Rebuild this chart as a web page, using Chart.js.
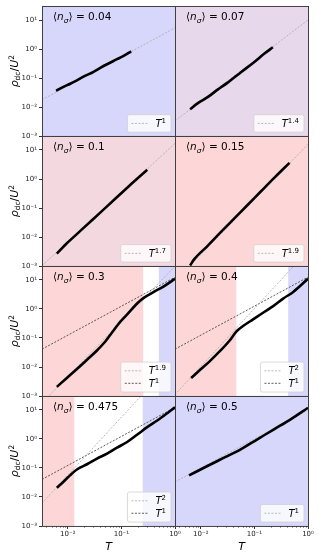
<!DOCTYPE html>
<html>
<head>
<meta charset="utf-8">
<script src="https://cdn.jsdelivr.net/npm/chart.js@4.4.1/dist/chart.umd.min.js"></script>
<style>
  body { margin: 0; background: #fff; }
  canvas { display: block; }
</style>
</head>
<body>
<canvas id="myChart" width="319" height="557"></canvas>
<script>
// rho_dc/U^2 vs T, one log-log panel per <n_sigma>, 4 rows x 2 cols

const nSigma = ['0.04', '0.07', '0.1', '0.15', '0.3', '0.4', '0.475', '0.5'];

const xLim = [0.0033, 1];
const yLim = [0.001, 30];
const yTicks = [0.001, 0.01, 0.1, 1, 10];
const yTickLabels = ['10⁻³', '10⁻²', '10⁻¹', '10⁰', '10¹'];
const xTicks = [0.01, 0.1, 1];
const xTickLabels = ['10⁻²', '10⁻¹', '10⁰'];
const xMinor = [0.004, 0.005, 0.006, 0.007, 0.008, 0.009,
                0.02, 0.03, 0.04, 0.05, 0.06, 0.07, 0.08, 0.09,
                0.2, 0.3, 0.4, 0.5, 0.6, 0.7, 0.8, 0.9];

// curves
const T04 = [0.00605, 0.0083, 0.0111, 0.0148, 0.0196, 0.0303, 0.0404, 0.0539, 0.083, 0.110, 0.152];
const rho04 = [0.0365, 0.05, 0.064, 0.084, 0.112, 0.165, 0.225, 0.3, 0.448, 0.585, 0.838];
const T07 = [0.00632, 0.00869, 0.0134, 0.0206, 0.0317, 0.0562, 0.0998, 0.154, 0.221];
const rho07 = [0.0084, 0.0135, 0.022, 0.04, 0.07, 0.16, 0.36, 0.7, 1.15];
const T10 = [0.00624, 0.0096, 0.0171, 0.0303, 0.0539, 0.0957, 0.170, 0.303];
const rho10 = [0.0027, 0.0061, 0.0163, 0.043, 0.114, 0.305, 0.81, 2.1];
const T15 = [0.00632, 0.0075, 0.0134, 0.0238, 0.0422, 0.0752, 0.133, 0.237, 0.452];
const rho15 = [0.00105, 0.0017, 0.005, 0.015, 0.044, 0.13, 0.38, 1.12, 3.6];
const T30 = [0.00624, 0.0096, 0.0148, 0.0228, 0.035, 0.0501, 0.0668, 0.0957, 0.137, 0.196, 0.261, 0.402, 0.618, 1.0];
const rho30 = [0.00207, 0.00421, 0.00855, 0.0178, 0.0372, 0.0757, 0.155, 0.366, 0.742, 1.54, 2.42, 3.87, 6.03, 11.0];
const T40 = [0.0066, 0.0095, 0.0146, 0.0224, 0.0346, 0.0459, 0.0614, 0.0944, 0.145, 0.224, 0.344, 0.53, 1.0];
const rho40 = [0.0042, 0.0077, 0.0157, 0.0344, 0.0818, 0.166, 0.258, 0.438, 0.741, 1.25, 2.28, 3.87, 11.0];
const T475 = [0.00624, 0.0083, 0.0111, 0.0148, 0.0228, 0.035, 0.054, 0.083, 0.128, 0.196, 0.303, 0.466, 0.716, 1.0];
const rho475 = [0.0209, 0.0336, 0.0566, 0.0885, 0.134, 0.21, 0.312, 0.5, 0.783, 1.39, 2.55, 4.3, 7.67, 12.3];
const T50 = [0.00604, 0.0133, 0.0272, 0.0555, 0.1135, 0.232, 0.475, 1.0];
const rho50 = [0.0557, 0.1166, 0.2256, 0.438, 0.968, 2.14, 4.73, 11.9];

// power law guides, values at xLim[0] and xLim[1]
const fit04 = [0.0178, 5.39];
const fit07 = [0.00337, 10.0];
const fit10 = [0.00103, 16.9];
const fit15 = [0.000305, 15.7];
const fit30 = [0.00058, 29.5], fit30b = [0.0412, 12.4];
const fit40 = [0.00113, 102], fit40b = [0.0412, 12.5];
const fit475 = [0.0061, 560], fit475b = [0.0403, 12.2];
const fit50 = [0.0328, 9.94];
const fitExp = [['1'], ['1.4'], ['1.7'], ['1.9'], ['1.9', '1'], ['2', '1'], ['2', '1'], ['1']];

// shaded T ranges
const bands04 = [['blue', 0.0033, 1]];
const bands07 = [['lilac', 0.0033, 1]];
const bands10 = [['mauve', 0.0033, 1]];
const bands15 = [['red', 0.0033, 1]];
const bands30 = [['red', 0.0033, 0.255], ['blue', 0.499, 1]];
const bands40 = [['red', 0.0033, 0.046], ['blue', 0.427, 1]];
const bands475 = [['red', 0.0033, 0.0132], ['blue', 0.25, 1]];
const bands50 = [['blue', 0.0033, 1]];

const bandColors = { blue: '#d7d7fb', lilac: '#e8d8ec', mauve: '#f3d8e0', red: '#fdd7d7' };
const FONT = 'DejaVu Sans';

const panels = [
  { T: T04, rho: rho04, fits: [fit04], bands: bands04 },
  { T: T07, rho: rho07, fits: [fit07], bands: bands07 },
  { T: T10, rho: rho10, fits: [fit10], bands: bands10 },
  { T: T15, rho: rho15, fits: [fit15], bands: bands15 },
  { T: T30, rho: rho30, fits: [fit30, fit30b], bands: bands30 },
  { T: T40, rho: rho40, fits: [fit40, fit40b], bands: bands40 },
  { T: T475, rho: rho475, fits: [fit475, fit475b], bands: bands475 },
  { T: T50, rho: rho50, fits: [fit50], bands: bands50 }
];
panels.forEach((p, i) => { p.row = Math.floor(i / 2); p.col = i % 2; });

const datasets = [];
panels.forEach((p, i) => {
  datasets.push({
    data: p.T.map((t, k) => ({ x: t, y: p.rho[k] })),
    xAxisID: 'x' + p.col, yAxisID: 'y' + p.row,
    borderColor: '#000', borderWidth: 2.6, pointRadius: 0,
    cubicInterpolationMode: 'monotone', order: 0
  });
  p.fits.forEach((f, j) => {
    const dark = p.fits.length > 1 && j == 1;
    datasets.push({
      data: xLim.map((t, k) => ({ x: t, y: f[k] })),
      xAxisID: 'x' + p.col, yAxisID: 'y' + p.row,
      borderColor: dark ? '#333' : '#a8a8a8', borderWidth: 0.8,
      borderDash: [2, 1.5], pointRadius: 0, order: 1
    });
  });
});

function drawRich(ctx, parts, x, y) {
  parts.forEach(p => {
    ctx.font = p.f;
    ctx.fillText(p.t, x, y + (p.dy || 0));
    x += ctx.measureText(p.t).width;
  });
}
function richWidth(ctx, parts) {
  let w = 0;
  parts.forEach(p => { ctx.font = p.f; w += ctx.measureText(p.t).width; });
  return w;
}

const panelPlugin = {
  id: 'panels',
  beforeDatasetsDraw(chart) {
    const ctx = chart.ctx;
    panels.forEach(p => {
      const xs = chart.scales['x' + p.col], ys = chart.scales['y' + p.row];
      ctx.save();
      ctx.fillStyle = '#fff';
      ctx.fillRect(xs.left, ys.top, xs.width, ys.height);
      p.bands.forEach(b => {
        const x0 = xs.getPixelForValue(b[1]), x1 = xs.getPixelForValue(b[2]);
        ctx.fillStyle = bandColors[b[0]];
        ctx.fillRect(x0, ys.top, x1 - x0, ys.height);
      });
      ctx.restore();
    });
  },
  beforeDatasetDraw(chart, args) {
    const ds = chart.data.datasets[args.index];
    const xs = chart.scales[ds.xAxisID], ys = chart.scales[ds.yAxisID];
    chart.ctx.save();
    chart.ctx.beginPath();
    chart.ctx.rect(xs.left, ys.top, xs.width, ys.height);
    chart.ctx.clip();
  },
  afterDatasetDraw(chart) {
    chart.ctx.restore();
  },
  afterDatasetsDraw(chart) {
    const ctx = chart.ctx;
    ctx.save();
    panels.forEach((p, i) => {
      const xs = chart.scales['x' + p.col], ys = chart.scales['y' + p.row];

      // legend
      const exps = fitExp[i];
      const rowH = 12.5, lineLen = 17, gap = 7;
      const items = exps.map(e => [
        { t: 'T', f: 'italic 10px ' + FONT },
        { t: e, f: '7px ' + FONT, dy: -4 }
      ]);
      const textW = Math.max(...items.map(it => richWidth(ctx, it)));
      const bw = 4 + lineLen + gap + textW + 5;
      const bh = exps.length * rowH + 5;
      const bx = xs.right - 4 - bw, by = ys.bottom - 4 - bh;
      ctx.fillStyle = 'rgba(255,255,255,0.8)';
      ctx.strokeStyle = '#d0d0d0';
      ctx.lineWidth = 0.8;
      ctx.beginPath();
      ctx.roundRect(bx, by, bw, bh, 2);
      ctx.fill();
      ctx.stroke();
      items.forEach((it, j) => {
        const cy = by + 2.5 + rowH * (j + 0.5);
        const dark = exps.length > 1 && j == 1;
        ctx.strokeStyle = dark ? '#333' : '#a8a8a8';
        ctx.setLineDash([2, 1.5]);
        ctx.beginPath();
        ctx.moveTo(bx + 4, cy);
        ctx.lineTo(bx + 4 + lineLen, cy);
        ctx.stroke();
        ctx.setLineDash([]);
        ctx.fillStyle = '#000';
        drawRich(ctx, it, bx + 4 + lineLen + gap, cy + 3.5);
      });

      // <n_sigma> label
      ctx.fillStyle = '#000';
      drawRich(ctx, [
        { t: '⟨', f: '10.5px ' + FONT },
        { t: 'n', f: 'italic 10.5px ' + FONT },
        { t: 'σ', f: 'italic 7.5px ' + FONT, dy: 2.5 },
        { t: '⟩ = ' + nSigma[i], f: '10.5px ' + FONT }
      ], xs.left + 11, ys.top + 14);

      // frame
      ctx.strokeStyle = '#404040';
      ctx.lineWidth = 1;
      ctx.strokeRect(Math.round(xs.left) + 0.5, Math.round(ys.top) + 0.5, xs.width, ys.height);
    });

    // minor ticks + T titles
    ['x0', 'x1'].forEach(id => {
      const xs = chart.scales[id];
      ctx.strokeStyle = '#333';
      ctx.lineWidth = 0.6;
      xMinor.forEach(v => {
        const px = Math.round(xs.getPixelForValue(v)) + 0.5;
        ctx.beginPath();
        ctx.moveTo(px, xs.top);
        ctx.lineTo(px, xs.top + 1.8);
        ctx.stroke();
      });
      ctx.fillStyle = '#000';
      ctx.font = 'italic 11px ' + FONT;
      ctx.textAlign = 'center';
      ctx.fillText('T', (xs.left + xs.right) / 2, 550);
      ctx.textAlign = 'left';
    });

    // y titles
    ['y0', 'y1', 'y2', 'y3'].forEach(id => {
      const ys = chart.scales[id];
      const parts = [
        { t: 'ρ', f: 'italic 11px ' + FONT },
        { t: 'dc', f: '7.5px ' + FONT, dy: 2.4 },
        { t: '/', f: '11px ' + FONT },
        { t: 'U', f: 'italic 11px ' + FONT },
        { t: '2', f: '7.5px ' + FONT, dy: -4.5 }
      ];
      const w = richWidth(ctx, parts);
      ctx.save();
      ctx.translate(14, (ys.top + ys.bottom) / 2);
      ctx.rotate(-Math.PI / 2);
      ctx.fillStyle = '#000';
      drawRich(ctx, parts, -w / 2, 4);
      ctx.restore();
    });
    ctx.restore();
  }
};

function xAxis(col) {
  return {
    type: 'logarithmic', axis: 'x', position: 'bottom', stack: 'cols', stackWeight: 1, weight: col,
    min: xLim[0], max: xLim[1],
    afterBuildTicks: s => { s.ticks = xTicks.map(v => ({ value: v })); },
    afterFit: s => { s.height = 31; },
    ticks: {
      autoSkip: false, maxRotation: 0, padding: 1, color: '#222',
      font: { family: FONT, size: 7 },
      callback: v => xTickLabels[xTicks.indexOf(v)]
    },
    grid: { display: true, drawOnChartArea: false, drawTicks: true, tickLength: 3, color: '#333' },
    border: { display: false }
  };
}
function yAxis(row) {
  return {
    type: 'logarithmic', axis: 'y', position: 'left', stack: 'rows', stackWeight: 1, weight: 3 - row,
    min: yLim[0], max: yLim[1],
    afterBuildTicks: s => { s.ticks = yTicks.map(v => ({ value: v })); },
    afterFit: s => { s.width = 42; },
    ticks: {
      autoSkip: false, padding: 2, color: '#222',
      font: { family: FONT, size: 7 },
      callback: v => yTickLabels[yTicks.indexOf(v)]
    },
    grid: { display: true, drawOnChartArea: false, drawTicks: true, tickLength: 3, color: '#333' },
    border: { display: false }
  };
}

new Chart(document.getElementById('myChart'), {
  type: 'line',
  data: { datasets: datasets },
  options: {
    responsive: false,
    animation: false,
    devicePixelRatio: 1,
    layout: { padding: { top: 6, right: 11, left: 0, bottom: 0 } },
    plugins: { legend: { display: false }, tooltip: { enabled: false } },
    scales: {
      x0: xAxis(0), x1: xAxis(1),
      y0: yAxis(0), y1: yAxis(1), y2: yAxis(2), y3: yAxis(3)
    }
  },
  plugins: [panelPlugin]
});
</script>
</body>
</html>
